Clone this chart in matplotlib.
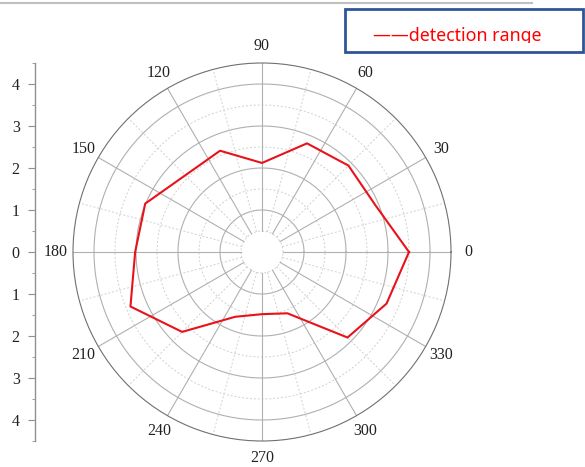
import matplotlib
matplotlib.use('Agg')
import matplotlib.pyplot as plt
import numpy as np
from matplotlib.patches import Rectangle
from matplotlib.lines import Line2D

# detection range (angle in degrees, range)
angles = [0, 22.5, 45, 67.5, 90, 112.5, 157.5, 180, 202.5, 225, 247.5, 270, 292.5, 315, 337.5, 360]
ranges = [3.50, 2.92, 2.91, 2.80, 2.12, 2.61, 3.01, 3.02, 3.39, 2.69, 1.67, 1.48, 1.58, 2.88, 3.21, 3.50]
angle_ticks = list(range(0, 360, 30))
left_ticks = [-4, -3, -2, -1, 0, 1, 2, 3, 4]
legend_label = '——detection range'

W, H = 585, 467
fig = plt.figure(figsize=(W / 100, H / 100), dpi=100)

# polar area: centre (262, 252), radius 189 px
cx, cy, R = 262, 252, 189
b = (H - (cy + R)) / H
h = 2 * R / H
ax = fig.add_axes([(cx - R) / W, b, 2 * R / W, h], projection='polar')
ax.set_ylim(0, 4.5)
ax.grid(False)
ax.set_yticks([])

# grid drawn by hand so it starts at r=0.5
t = np.linspace(0, 2 * np.pi, 400)
for r in [1, 2, 3, 4]:
    ax.plot(t, np.full_like(t, r), color='#b0b0b0', lw=0.8, zorder=1)
for r in [0.5, 1.5, 2.5, 3.5]:
    ax.plot(t, np.full_like(t, r), color='#d0d0d0', lw=0.7, ls=(0, (2, 2)), zorder=1)
for a in range(0, 360, 30):
    ax.plot([np.radians(a)] * 2, [0.5, 4.5], color='#b0b0b0', lw=0.8, zorder=1)
for a in range(15, 360, 30):
    ax.plot([np.radians(a)] * 2, [0.5, 4.5], color='#d0d0d0', lw=0.7, ls=(0, (2, 2)), zorder=1)

ax.plot(np.radians(angles), ranges, color='#e8121a', lw=1.5, zorder=3)

ax.set_thetagrids(angle_ticks, [str(a) for a in angle_ticks],
                  fontfamily='Liberation Serif', fontsize=11.5, color='#222222')
ax.tick_params(axis='x', pad=2)
ax.spines['polar'].set_color('#707070')
ax.spines['polar'].set_linewidth(0.8)

# left scale
axl = fig.add_axes([35 / W, b, 0.001, h])
axl.set_ylim(-4.5, 4.5)
for s in ['top', 'right', 'bottom']:
    axl.spines[s].set_visible(False)
axl.spines['left'].set_color('#909090')
axl.spines['left'].set_linewidth(1.0)
axl.set_xticks([])
axl.set_yticks(left_ticks)
axl.set_yticklabels([str(abs(v)) for v in left_ticks],
                    fontfamily='Liberation Serif', fontsize=11.5, color='#222222')
axl.set_yticks(np.arange(-4.5, 4.6, 0.5), minor=True)
axl.tick_params(axis='y', which='major', direction='out', length=5, color='#909090', pad=6)
axl.tick_params(axis='y', which='minor', direction='out', length=2.5, color='#909090')
axl.patch.set_visible(False)

# thin gray line at the very top
fig.add_artist(Line2D([0, 532 / W], [1 - 3.3 / H] * 2, color='#c0c0c0', lw=1.5))

# legend box
box = Rectangle((345 / W, 1 - 51.5 / H), 238 / W, 42 / H, transform=fig.transFigure,
                facecolor='white', edgecolor='#2f5597', lw=2)
fig.add_artist(box)
clip = Rectangle((345 / W, 1 - 42.5 / H), 238 / W, 33 / H, transform=fig.transFigure,
                 facecolor='none', edgecolor='none')
fig.add_artist(clip)
txt = fig.text(373 / W, 1 - 41 / H, legend_label, color='red', fontsize=12.8,
               fontfamily='Noto Sans', va='baseline', ha='left')
txt.set_clip_path(clip)

fig.savefig('out.png', dpi=100)
